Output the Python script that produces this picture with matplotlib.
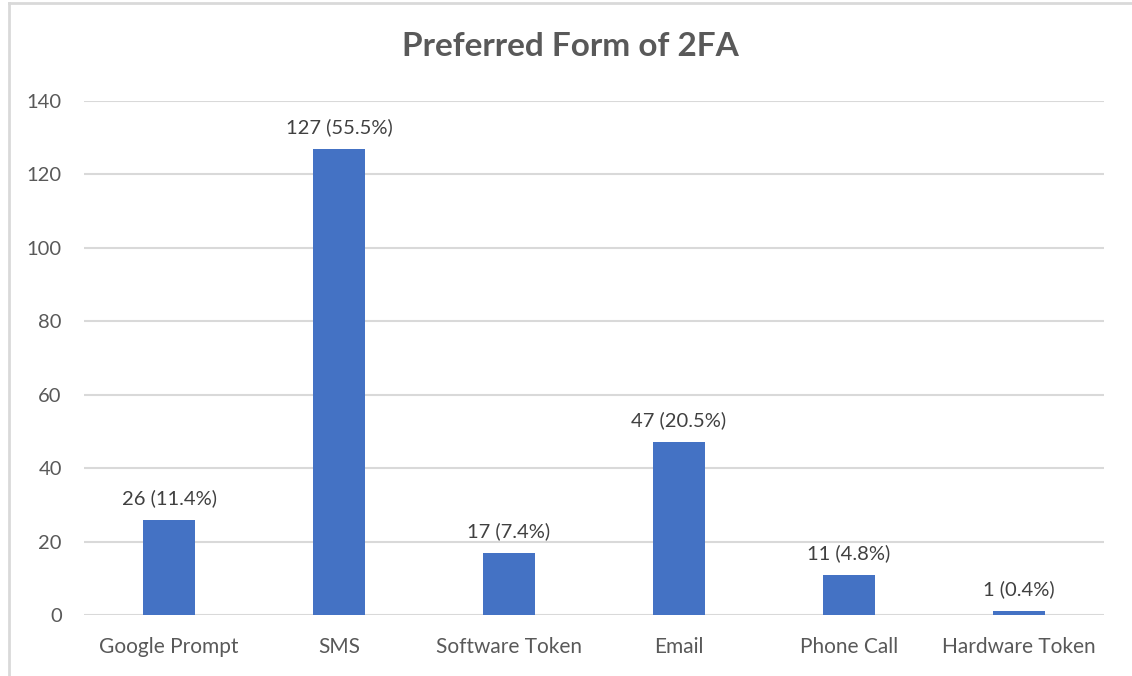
import matplotlib
matplotlib.use("Agg")
import matplotlib.pyplot as plt
from matplotlib.lines import Line2D

categories = ["Google Prompt", "SMS", "Software Token", "Email", "Phone Call", "Hardware Token"]
counts = [26, 127, 17, 47, 11, 1]
percents = ["11.4%", "55.5%", "7.4%", "20.5%", "4.8%", "0.4%"]
yticks = [0, 20, 40, 60, 80, 100, 120, 140]

plt.rcParams['font.family'] = ['Lato', 'DejaVu Sans']

fig = plt.figure(figsize=(11.32, 6.76), dpi=100)
ax = fig.add_axes([84/1132, 1 - 615/676, (1104-84)/1132, (615-101)/676])

x = range(len(categories))
ax.bar(x, counts, width=0.31, color="#4472C4", zorder=3)
for xi, c, p in zip(x, counts, percents):
    ax.text(xi, c + 3.5, f"{c} ({p})", ha="center", va="bottom",
            fontsize=14.5, color="#404040")

ax.set_xlim(-0.5, len(categories) - 0.5)
ax.set_ylim(0, 140)
ax.set_yticks(yticks)
ax.set_xticks(list(x))
ax.set_xticklabels(categories, fontsize=15)
ax.tick_params(axis="both", length=0, colors="#595959")
ax.tick_params(axis="y", labelsize=14.5)
ax.tick_params(axis="x", pad=16)
ax.tick_params(axis="y", pad=16)
ax.grid(axis="y", color="#D9D9D9", linewidth=1.5, zorder=0)
for s in ax.spines.values():
    s.set_visible(False)

fig.text(570 / 1132, 1 - 46/676, "Preferred Form of 2FA", ha="center", va="center",
         fontsize=24, fontweight="bold", color="#595959")

# chart border
fig.add_artist(Line2D([9/1132, 9/1132], [0, 1 - 3/676], color="#D9D9D9", linewidth=2, transform=fig.transFigure))
fig.add_artist(Line2D([9/1132, 1], [1 - 3/676, 1 - 3/676], color="#D9D9D9", linewidth=2, transform=fig.transFigure))

fig.savefig("out.png", dpi=100)
